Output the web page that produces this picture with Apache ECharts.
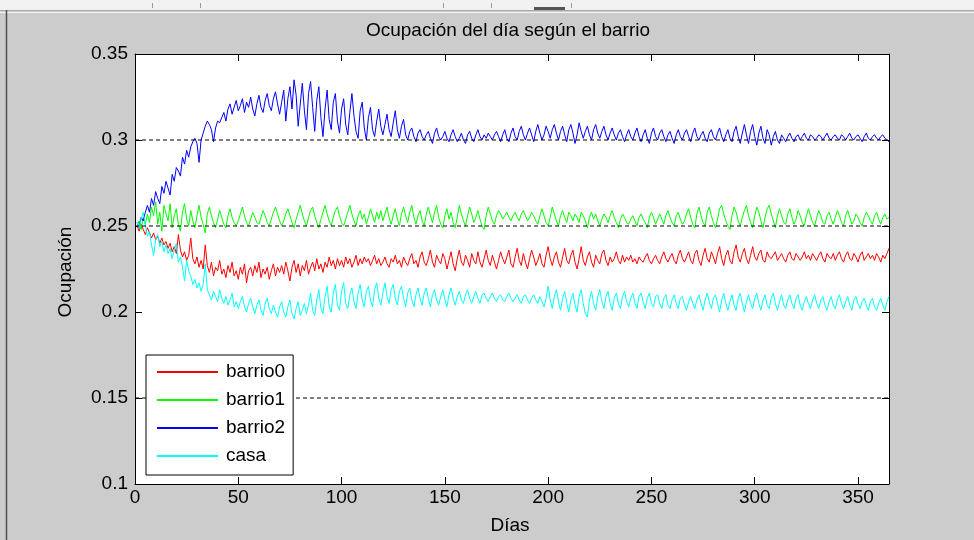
<!DOCTYPE html>
<html>
<head>
<meta charset="utf-8">
<script src="https://cdn.jsdelivr.net/npm/echarts@6/dist/echarts.min.js"></script>
<style>
html,body{margin:0;padding:0;background:#cccccc;}
#chart{width:974px;height:540px;}
</style>
</head>
<body>
<div id="chart"></div>
<script>
// ---- Data (one per day, days 1..365) ----
const seriesNames = ['barrio0', 'barrio1', 'barrio2', 'casa'];
const xTicks = [0, 50, 100, 150, 200, 250, 300, 350];
const yTicks = [0.1, 0.15, 0.2, 0.25, 0.3, 0.35];
const refLevels = [0.3, 0.25, 0.15];

const barrio0 = [
0.250,0.247,0.251,0.248,0.245,0.249,0.246,
0.243,0.246,0.242,0.244,0.240,0.243,0.239,
0.241,0.237,0.240,0.235,0.238,0.234,0.245,
0.236,0.232,0.235,0.230,0.233,0.243,0.231,
0.228,0.232,0.226,0.230,0.225,0.239,0.227,
0.223,0.229,0.221,0.226,0.224,0.230,0.222,
0.225,0.220,0.227,0.223,0.229,0.221,0.224,
0.219,0.226,0.222,0.228,0.217,0.224,0.226,
0.221,0.227,0.223,0.229,0.220,0.225,0.222,
0.226,0.219,0.224,0.228,0.221,0.226,0.223,
0.227,0.222,0.229,0.224,0.218,0.226,0.230,
0.223,0.228,0.221,0.227,0.224,0.230,0.222,
0.226,0.229,0.224,0.231,0.225,0.228,0.223,
0.229,0.226,0.232,0.227,0.230,0.225,0.231,
0.227,0.230,0.226,0.232,0.228,0.231,0.226,
0.229,0.233,0.227,0.231,0.228,0.232,0.229,
0.231,0.227,0.230,0.233,0.228,0.231,0.227,
0.229,0.232,0.228,0.226,0.231,0.229,0.233,
0.228,0.230,0.226,0.232,0.229,0.227,0.231,
0.234,0.228,0.230,0.226,0.232,0.235,0.229,
0.227,0.231,0.236,0.229,0.226,0.233,0.230,
0.228,0.234,0.231,0.225,0.230,0.235,0.228,
0.224,0.231,0.236,0.229,0.227,0.233,0.230,
0.226,0.234,0.230,0.228,0.235,0.229,0.226,
0.231,0.236,0.230,0.227,0.233,0.229,0.225,
0.230,0.235,0.231,0.228,0.232,0.236,0.228,
0.226,0.232,0.237,0.230,0.227,0.234,0.229,
0.225,0.231,0.236,0.232,0.227,0.230,0.234,
0.228,0.226,0.233,0.238,0.231,0.227,0.232,
0.235,0.229,0.226,0.232,0.237,0.230,0.228,
0.233,0.236,0.229,0.225,0.231,0.238,0.230,
0.227,0.232,0.235,0.229,0.226,0.233,0.230,
0.228,0.234,0.236,0.230,0.227,0.232,0.229,
0.231,0.235,0.230,0.228,0.233,0.229,0.232,
0.230,0.233,0.229,0.231,0.228,0.232,0.230,
0.229,0.232,0.234,0.230,0.228,0.231,0.233,
0.230,0.228,0.232,0.235,0.231,0.229,0.232,
0.234,0.230,0.228,0.233,0.236,0.231,0.229,
0.232,0.235,0.230,0.228,0.234,0.236,0.230,
0.227,0.233,0.237,0.231,0.229,0.235,0.232,
0.228,0.234,0.238,0.231,0.227,0.233,0.236,
0.230,0.228,0.235,0.239,0.232,0.229,0.234,
0.237,0.231,0.228,0.233,0.238,0.232,0.230,
0.234,0.236,0.230,0.229,0.235,0.232,0.231,
0.233,0.235,0.230,0.232,0.234,0.231,0.229,
0.233,0.235,0.231,0.230,0.234,0.232,0.230,
0.232,0.235,0.231,0.233,0.230,0.234,0.232,
0.230,0.233,0.235,0.231,0.229,0.234,0.232,
0.231,0.234,0.230,0.233,0.235,0.231,0.229,
0.233,0.235,0.231,0.230,0.234,0.232,0.229,
0.233,0.235,0.230,0.232,0.234,0.231,0.233,
0.230,0.234,0.232,0.229,0.233,0.231,0.234,
0.237
];

const barrio1 = [
0.250,0.253,0.248,0.255,0.251,0.257,0.252,
0.261,0.256,0.264,0.251,0.258,0.247,0.262,
0.257,0.253,0.263,0.249,0.256,0.260,0.251,
0.247,0.258,0.263,0.254,0.250,0.259,0.253,
0.249,0.256,0.262,0.255,0.251,0.246,0.257,
0.261,0.256,0.252,0.249,0.254,0.259,0.255,
0.251,0.249,0.256,0.260,0.255,0.252,0.250,
0.253,0.257,0.261,0.256,0.252,0.250,0.254,
0.258,0.255,0.252,0.251,0.255,0.259,0.256,
0.252,0.250,0.254,0.258,0.261,0.257,0.253,
0.250,0.253,0.257,0.260,0.256,0.252,0.249,
0.254,0.258,0.262,0.257,0.253,0.250,0.255,
0.259,0.261,0.256,0.252,0.249,0.254,0.258,
0.262,0.257,0.253,0.250,0.255,0.259,0.261,
0.256,0.252,0.250,0.254,0.258,0.262,0.257,
0.253,0.250,0.256,0.259,0.254,0.257,0.251,
0.255,0.260,0.256,0.252,0.258,0.254,0.259,
0.253,0.257,0.261,0.255,0.251,0.256,0.260,
0.254,0.250,0.257,0.261,0.256,0.252,0.258,
0.262,0.255,0.251,0.256,0.259,0.253,0.250,
0.257,0.261,0.256,0.252,0.258,0.262,0.255,
0.251,0.249,0.256,0.260,0.254,0.258,0.252,
0.249,0.255,0.262,0.257,0.253,0.250,0.256,
0.261,0.257,0.252,0.255,0.259,0.254,0.250,
0.248,0.256,0.261,0.257,0.253,0.251,0.256,
0.259,0.257,0.254,0.256,0.258,0.255,0.253,
0.256,0.258,0.255,0.253,0.257,0.259,0.256,
0.253,0.255,0.258,0.256,0.253,0.251,0.256,
0.260,0.256,0.252,0.250,0.255,0.261,0.257,
0.253,0.250,0.256,0.259,0.255,0.252,0.258,
0.256,0.253,0.257,0.255,0.252,0.258,0.256,
0.253,0.249,0.255,0.258,0.254,0.257,0.253,
0.250,0.254,0.257,0.255,0.252,0.256,0.259,
0.255,0.252,0.249,0.254,0.257,0.255,0.252,
0.251,0.254,0.256,0.253,0.250,0.255,0.257,
0.254,0.252,0.249,0.255,0.258,0.255,0.251,
0.254,0.257,0.254,0.251,0.256,0.259,0.255,
0.252,0.250,0.256,0.258,0.254,0.251,0.253,
0.257,0.260,0.255,0.251,0.249,0.257,0.261,
0.256,0.252,0.250,0.258,0.261,0.256,0.252,
0.249,0.254,0.260,0.262,0.257,0.253,0.250,
0.248,0.256,0.261,0.258,0.253,0.250,0.255,
0.259,0.262,0.256,0.252,0.249,0.256,0.261,
0.258,0.253,0.249,0.255,0.260,0.262,0.257,
0.253,0.249,0.256,0.260,0.256,0.252,0.251,
0.257,0.260,0.255,0.251,0.254,0.259,0.256,
0.252,0.250,0.256,0.260,0.256,0.252,0.250,
0.255,0.259,0.256,0.252,0.251,0.256,0.258,
0.254,0.251,0.255,0.259,0.256,0.252,0.250,
0.256,0.259,0.255,0.251,0.253,0.257,0.255,
0.252,0.250,0.255,0.258,0.256,0.253,0.251,
0.256,0.258,0.254,0.251,0.255,0.257,0.254,
0.255
];

const barrio2 = [
0.252,0.249,0.255,0.253,0.258,0.262,0.258,
0.266,0.262,0.270,0.266,0.263,0.273,0.269,
0.276,0.272,0.268,0.280,0.276,0.284,0.282,
0.279,0.290,0.286,0.294,0.290,0.296,0.299,
0.301,0.298,0.287,0.300,0.304,0.308,0.311,
0.309,0.306,0.299,0.307,0.311,0.310,0.313,
0.316,0.311,0.318,0.321,0.315,0.319,0.323,
0.317,0.320,0.324,0.316,0.322,0.319,0.325,
0.318,0.314,0.321,0.326,0.319,0.316,0.323,
0.327,0.320,0.317,0.324,0.328,0.321,0.315,
0.322,0.329,0.311,0.324,0.331,0.318,0.335,
0.326,0.308,0.321,0.333,0.317,0.306,0.327,
0.334,0.319,0.305,0.323,0.331,0.313,0.302,
0.318,0.329,0.312,0.306,0.322,0.327,0.311,
0.304,0.318,0.324,0.309,0.303,0.316,0.327,
0.314,0.305,0.301,0.317,0.322,0.307,0.300,
0.313,0.319,0.306,0.302,0.311,0.318,0.308,
0.303,0.309,0.315,0.306,0.302,0.310,0.317,
0.306,0.301,0.308,0.312,0.303,0.300,0.305,
0.307,0.302,0.299,0.304,0.306,0.302,0.300,
0.303,0.305,0.301,0.298,0.304,0.307,0.302,
0.300,0.302,0.305,0.301,0.299,0.303,0.306,
0.302,0.299,0.301,0.304,0.300,0.298,0.303,
0.305,0.301,0.299,0.303,0.306,0.302,0.300,
0.303,0.301,0.304,0.302,0.300,0.303,0.305,
0.302,0.299,0.303,0.306,0.301,0.299,0.304,
0.307,0.302,0.300,0.305,0.308,0.303,0.300,
0.304,0.307,0.303,0.299,0.305,0.309,0.304,
0.300,0.303,0.308,0.305,0.301,0.306,0.309,
0.304,0.300,0.305,0.308,0.303,0.299,0.306,
0.309,0.304,0.298,0.303,0.310,0.305,0.301,
0.305,0.308,0.303,0.300,0.306,0.309,0.304,
0.301,0.305,0.308,0.303,0.300,0.304,0.307,
0.303,0.300,0.304,0.306,0.302,0.299,0.303,
0.306,0.302,0.300,0.304,0.307,0.302,0.299,
0.303,0.306,0.301,0.298,0.304,0.307,0.302,
0.300,0.304,0.306,0.302,0.299,0.303,0.305,
0.301,0.298,0.303,0.306,0.302,0.300,0.304,
0.306,0.302,0.299,0.304,0.307,0.302,0.300,
0.303,0.305,0.301,0.299,0.304,0.306,0.302,
0.300,0.304,0.307,0.302,0.299,0.303,0.306,
0.301,0.299,0.305,0.308,0.302,0.298,0.304,
0.309,0.303,0.298,0.305,0.309,0.302,0.297,
0.304,0.308,0.301,0.298,0.306,0.303,0.297,
0.302,0.305,0.300,0.298,0.303,0.301,0.299,
0.302,0.304,0.301,0.299,0.302,0.303,0.300,
0.302,0.304,0.301,0.300,0.303,0.302,0.300,
0.301,0.303,0.302,0.300,0.302,0.304,0.301,
0.300,0.302,0.303,0.301,0.300,0.303,0.302,
0.300,0.302,0.304,0.301,0.300,0.302,0.303,
0.301,0.299,0.302,0.304,0.301,0.300,0.302,
0.303,0.301,0.300,0.302,0.303,0.301,0.300,
0.299
];

const casa = [
0.252,0.249,0.254,0.258,0.250,0.244,0.247,
0.239,0.233,0.242,0.245,0.238,0.241,0.235,
0.239,0.234,0.237,0.231,0.236,0.240,0.229,
0.232,0.226,0.218,0.230,0.224,0.221,0.216,
0.219,0.214,0.217,0.212,0.216,0.228,0.213,
0.210,0.207,0.212,0.209,0.206,0.213,0.208,
0.205,0.209,0.204,0.207,0.211,0.203,0.206,
0.202,0.206,0.209,0.203,0.200,0.205,0.208,
0.203,0.199,0.204,0.207,0.201,0.198,0.205,
0.208,0.202,0.199,0.204,0.200,0.197,0.203,
0.206,0.200,0.197,0.203,0.207,0.199,0.196,
0.202,0.206,0.198,0.201,0.205,0.199,0.204,
0.211,0.201,0.198,0.207,0.213,0.202,0.199,
0.209,0.215,0.203,0.200,0.211,0.216,0.204,
0.201,0.212,0.217,0.205,0.202,0.210,0.214,
0.206,0.202,0.211,0.216,0.207,0.203,0.212,
0.215,0.207,0.203,0.213,0.217,0.208,0.204,
0.211,0.217,0.209,0.205,0.213,0.216,0.208,
0.204,0.212,0.215,0.208,0.203,0.211,0.214,
0.207,0.203,0.210,0.214,0.208,0.204,0.211,
0.214,0.208,0.203,0.210,0.213,0.207,0.204,
0.209,0.213,0.207,0.203,0.210,0.214,0.208,
0.204,0.209,0.212,0.207,0.205,0.210,0.213,
0.208,0.205,0.209,0.212,0.208,0.205,0.210,
0.211,0.208,0.206,0.209,0.211,0.208,0.206,
0.209,0.210,0.207,0.206,0.209,0.211,0.208,
0.206,0.208,0.210,0.207,0.205,0.209,0.210,
0.207,0.205,0.208,0.210,0.207,0.205,0.209,
0.206,0.203,0.208,0.215,0.207,0.202,0.209,
0.213,0.206,0.201,0.208,0.212,0.205,0.200,
0.207,0.211,0.204,0.200,0.209,0.213,0.205,
0.199,0.197,0.207,0.212,0.205,0.201,0.209,
0.213,0.206,0.202,0.209,0.212,0.205,0.201,
0.208,0.211,0.205,0.202,0.209,0.212,0.206,
0.203,0.208,0.211,0.205,0.202,0.209,0.211,
0.206,0.202,0.208,0.211,0.205,0.203,0.209,
0.210,0.205,0.202,0.208,0.210,0.204,0.202,
0.207,0.210,0.205,0.202,0.208,0.209,0.204,
0.201,0.206,0.209,0.205,0.202,0.207,0.210,
0.205,0.201,0.207,0.211,0.206,0.202,0.208,
0.210,0.205,0.200,0.207,0.211,0.205,0.201,
0.206,0.210,0.204,0.201,0.208,0.211,0.205,
0.200,0.206,0.210,0.205,0.202,0.208,0.211,
0.205,0.201,0.207,0.210,0.204,0.202,0.208,
0.211,0.205,0.201,0.206,0.210,0.204,0.202,
0.207,0.210,0.205,0.202,0.208,0.210,0.204,
0.201,0.206,0.209,0.205,0.202,0.207,0.210,
0.205,0.202,0.207,0.209,0.204,0.201,0.206,
0.209,0.204,0.202,0.207,0.210,0.205,0.202,
0.206,0.209,0.204,0.201,0.207,0.209,0.205,
0.202,0.206,0.208,0.204,0.201,0.206,0.208,
0.203,0.201,0.205,0.208,0.204,0.201,0.206,
0.209
];

const seriesValues = [barrio0, barrio1, barrio2, casa];
const seriesColors = ['#ff0000', '#00ff00', '#0000ff', '#00ffff'];

// ---- Chart ----
const FONT = "'Liberation Sans', Arial, sans-serif";
const chart = echarts.init(document.getElementById('chart'), null, {renderer: 'canvas'});

const lineSeries = seriesValues.map((vals, k) => ({
  name: seriesNames[k],
  type: 'line',
  data: vals.map((v, i) => [i + 1, v]),
  showSymbol: false,
  symbol: 'none',
  color: seriesColors[k],
  lineStyle: {color: seriesColors[k], width: 1},
  itemStyle: {color: seriesColors[k]},
  emphasis: {disabled: true},
  animation: false,
  z: 2
}));

const refSeries = refLevels.map((lvl) => ({
  name: 'ref' + lvl,
  type: 'line',
  data: [[0, lvl], [365, lvl]],
  showSymbol: false,
  symbol: 'none',
  color: '#000000',
  lineStyle: {color: '#000000', width: 1, type: [4, 3]},
  emphasis: {disabled: true},
  animation: false,
  z: 3
}));

const commonX = {
  type: 'value', min: 0, max: 365, interval: 50,
  splitLine: {show: false},
  axisLine: {show: true, onZero: false, lineStyle: {color: '#000', width: 1}},
  axisTick: {show: true, inside: true, length: 7, lineStyle: {color: '#000', width: 1}}
};
const commonY = {
  type: 'value', min: 0.1, max: 0.35, interval: 0.05,
  splitLine: {show: false},
  axisLine: {show: true, onZero: false, lineStyle: {color: '#000', width: 1}},
  axisTick: {show: true, inside: true, length: 7, lineStyle: {color: '#000', width: 1}}
};

chart.setOption({
  backgroundColor: '#cccccc',
  animation: false,
  color: seriesColors,
  grid: {left: 135, top: 54, width: 754, height: 430, show: true, backgroundColor: '#ffffff', borderWidth: 0},
  legend: {
    data: seriesNames,
    orient: 'vertical',
    left: 146, top: 355,
    padding: [6, 8, 8, 11],
    itemGap: 6,
    icon: 'rect',
    itemWidth: 61, itemHeight: 2,
    backgroundColor: '#ffffff',
    borderColor: '#000000', borderWidth: 1,
    selectedMode: false,
    textStyle: {fontFamily: FONT, fontSize: 19, color: '#000', lineHeight: 22, padding: [0, 0, 0, 3]}
  },
  xAxis: [
    Object.assign({}, commonX, {
      position: 'bottom',
      axisLabel: {show: true, color: '#000', fontFamily: FONT, fontSize: 19, margin: 4, showMaxLabel: false,
        formatter: (v) => (xTicks.indexOf(v) >= 0 ? String(v) : '')}
    }),
    Object.assign({}, commonX, {position: 'top', axisLabel: {show: false}})
  ],
  yAxis: [
    Object.assign({}, commonY, {
      position: 'left',
      axisLabel: {show: true, color: '#000', fontFamily: FONT, fontSize: 19, margin: 7,
        formatter: (v) => {
          const r = Math.round(v * 100) / 100;
          return yTicks.some(t => Math.abs(t - r) < 1e-9) ? String(r) : '';
        }}
    }),
    Object.assign({}, commonY, {position: 'right', axisLabel: {show: false}})
  ],
  series: lineSeries.concat(refSeries),
  graphic: [
    {type: 'rect', shape: {x: 0, y: 0, width: 974, height: 10}, style: {fill: '#f2f2f2'}, silent: true},
    {type: 'line', shape: {x1: 0, y1: 10.5, x2: 974, y2: 10.5}, style: {stroke: '#a9a9a9', lineWidth: 1}, silent: true},
    {type: 'line', shape: {x1: 0, y1: 12.5, x2: 974, y2: 12.5}, style: {stroke: '#f4f4f4', lineWidth: 1}, silent: true},
    {type: 'line', shape: {x1: 6.5, y1: 10, x2: 6.5, y2: 540}, style: {stroke: '#505050', lineWidth: 1.5}, silent: true},
    {type: 'line', shape: {x1: 152.5, y1: 3, x2: 152.5, y2: 8}, style: {stroke: '#999', lineWidth: 1}, silent: true},
    {type: 'line', shape: {x1: 200.5, y1: 3, x2: 200.5, y2: 8}, style: {stroke: '#999', lineWidth: 1}, silent: true},
    {type: 'line', shape: {x1: 443.5, y1: 3, x2: 443.5, y2: 8}, style: {stroke: '#999', lineWidth: 1}, silent: true},
    {type: 'line', shape: {x1: 491.5, y1: 3, x2: 491.5, y2: 8}, style: {stroke: '#999', lineWidth: 1}, silent: true},
    {type: 'rect', shape: {x: 534, y: 7, width: 31, height: 3}, style: {fill: '#555'}, silent: true},
    {type: 'line', shape: {x1: 571.5, y1: 3, x2: 571.5, y2: 8}, style: {stroke: '#999', lineWidth: 1}, silent: true},
    {type: 'text', x: 508, y: 31, silent: true,
      style: {text: 'Ocupación del día según el barrio', fill: '#000', font: '19px ' + FONT, textAlign: 'center', textVerticalAlign: 'middle'}},
    {type: 'text', x: 510, y: 526, silent: true,
      style: {text: 'Días', fill: '#000', font: '19px ' + FONT, textAlign: 'center', textVerticalAlign: 'middle'}},
    {type: 'text', x: 66, y: 272, rotation: Math.PI / 2, silent: true,
      style: {text: 'Ocupación', fill: '#000', font: '19px ' + FONT, textAlign: 'center', textVerticalAlign: 'middle'}}
  ]
});
</script>
</body>
</html>
